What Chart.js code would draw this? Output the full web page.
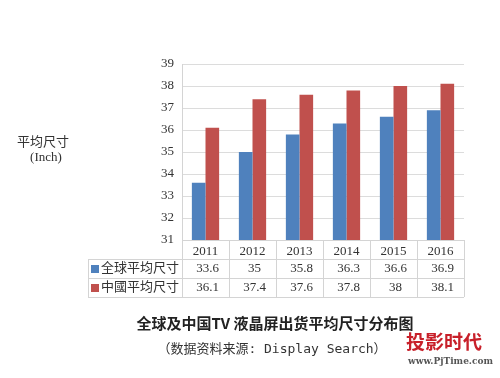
<!DOCTYPE html>
<html><head><meta charset="utf-8">
<script src="https://cdn.jsdelivr.net/npm/chart.js@4/dist/chart.umd.min.js"></script>
<style>html,body{margin:0;padding:0;background:#fff;}canvas{display:block}</style>
</head><body>
<canvas id="c" width="500" height="378"></canvas>
<script>
const years = ['2011', '2012', '2013', '2014', '2015', '2016'];
const seriesNames = ['全球平均尺寸', '中國平均尺寸'];
const globalAvg = [33.6, 35, 35.8, 36.3, 36.6, 36.9];
const chinaAvg = [36.1, 37.4, 37.6, 37.8, 38, 38.1];
const yMin = 31, yMax = 39, yStep = 1;
const yTitle = ['平均尺寸', '(Inch)'];
const chartTitle = '全球及中国TV 液晶屏出货平均尺寸分布图';
const chartSubtitle = '（数据资料来源: Display Search）';
const watermark = ['投影时代', 'www.PjTime.com'];

const BLUE = '#4f81bd', RED = '#c0504d';
const SERIF = "'Liberation Serif', 'Noto Sans CJK SC', serif";
const colors = [BLUE, RED];
const seriesData = [globalAvg, chinaAvg];

const extras = {
  id: 'extras',
  afterDraw(chart) {
    const { ctx, chartArea: a, scales: { x } } = chart;
    const rowH = 19;
    const tLeft = 88;
    const r0 = a.bottom, r1 = r0 + rowH, r2 = r1 + rowH, r3 = r2 + rowH;
    ctx.save();
    ctx.strokeStyle = '#d4d4d4';
    ctx.lineWidth = 1;
    const hl = (x1, x2, y) => { ctx.beginPath(); ctx.moveTo(x1, Math.round(y) + 0.5); ctx.lineTo(x2, Math.round(y) + 0.5); ctx.stroke(); };
    const vl = (xx, y1, y2) => { ctx.beginPath(); ctx.moveTo(Math.round(xx) + 0.5, y1); ctx.lineTo(Math.round(xx) + 0.5, y2); ctx.stroke(); };
    hl(a.left, a.right, r0);
    hl(tLeft, a.right, r1);
    hl(tLeft, a.right, r2);
    hl(tLeft, a.right, r3);
    for (let i = 0; i <= years.length; i++) {
      vl(x.getPixelForValue(i - 0.5), r0, r3);
    }
    vl(tLeft, r1, r3);
    ctx.textBaseline = 'middle';
    ctx.font = '13px ' + SERIF;
    seriesData.forEach((vals, s) => {
      const cy = (s === 0 ? r1 : r2) + rowH / 2 + 0.5;
      ctx.fillStyle = colors[s];
      ctx.fillRect(tLeft + 3, cy - 4, 8, 8);
      ctx.fillStyle = '#333';
      ctx.textAlign = 'left';
      ctx.fillText(seriesNames[s], tLeft + 13, cy);
      ctx.textAlign = 'center';
      vals.forEach((v, i) => {
        ctx.fillText(String(v), x.getPixelForValue(i) + 2, cy);
      });
    });
    ctx.fillStyle = '#333';
    ctx.textAlign = 'center';
    ctx.font = '13px ' + SERIF;
    ctx.fillText(yTitle[0], 43, 143);
    ctx.fillText(yTitle[1], 46, 158);
    ctx.fillStyle = '#222';
    ctx.font = 'bold 15px "Noto Sans CJK SC", sans-serif';
    ctx.fillText(chartTitle, 275, 323);
    ctx.font = '13px "DejaVu Sans Mono", "Noto Sans CJK SC", monospace';
    ctx.fillStyle = '#333';
    ctx.fillText(chartSubtitle, 272, 350);
    ctx.fillStyle = '#c8202a';
    ctx.font = 'bold 19px "Noto Sans CJK SC", sans-serif';
    ctx.textAlign = 'left';
    ctx.fillText(watermark[0], 406, 342);
    ctx.fillStyle = '#555';
    ctx.font = 'bold 9px "DejaVu Serif", serif';
    ctx.fillText(watermark[1], 408, 362);
    ctx.restore();
  }
};

new Chart(document.getElementById('c'), {
  type: 'bar',
  data: {
    labels: years,
    datasets: seriesData.map((d, s) => ({
      label: seriesNames[s],
      data: d,
      backgroundColor: colors[s],
      borderWidth: 0,
      categoryPercentage: 0.58,
      barPercentage: 1.0
    }))
  },
  options: {
    responsive: false,
    animation: false,
    layout: { padding: { left: 132, right: 36, top: 64, bottom: 118 } },
    plugins: { legend: { display: false }, tooltip: { enabled: false }, title: { display: false } },
    scales: {
      x: {
        grid: { display: false, drawTicks: false },
        border: { display: false },
        ticks: { color: '#333', font: { family: SERIF, size: 13 }, padding: 4 },
        afterFit(s) { s.height = 20; }
      },
      y: {
        min: yMin, max: yMax,
        grid: { color: '#dcdcdc', drawTicks: false },
        border: { display: true, color: '#d4d4d4' },
        ticks: { stepSize: yStep, color: '#333', font: { family: SERIF, size: 13 }, padding: 8 },
        afterFit(s) { s.width = 50; }
      }
    }
  },
  plugins: [extras]
});
</script>
</body></html>
